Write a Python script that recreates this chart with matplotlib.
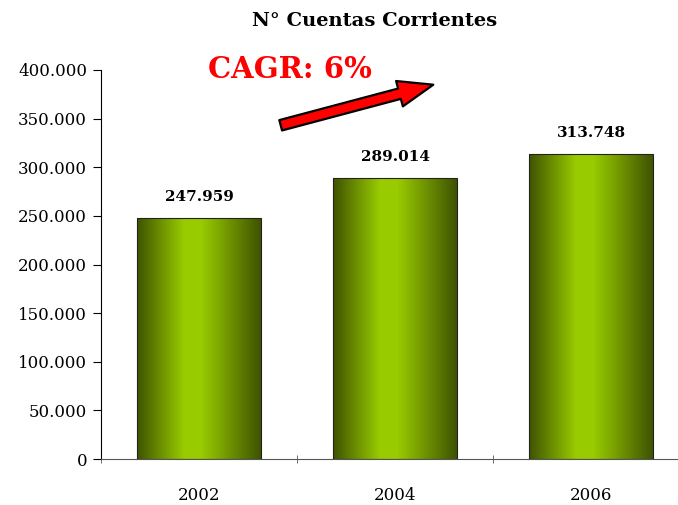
import numpy as np
import matplotlib
matplotlib.use("Agg")
import matplotlib.pyplot as plt
from matplotlib.patches import FancyArrowPatch
from matplotlib.colors import LinearSegmentedColormap
from matplotlib.ticker import FuncFormatter
from matplotlib.transforms import IdentityTransform

years = ["2002", "2004", "2006"]
cuentas = [247959, 289014, 313748]
title = "N° Cuentas Corrientes"
cagr_label = "CAGR: 6%"

plt.rcParams['font.family'] = ['DejaVu Serif']


def miles(v, pos=None):
    return f"{int(v):,}".replace(",", ".")


fig = plt.figure(figsize=(6.78, 5.05), dpi=100)
ax = fig.add_axes([101 / 678, 46 / 505, 588 / 678, 389 / 505])

x = np.arange(len(years))
bars = ax.bar(x, cuentas, width=0.63, color='none', edgecolor='#222222', linewidth=0.8, zorder=3)

# horizontal gradient: dark olive at edges, bright green towards the middle
grad = LinearSegmentedColormap.from_list(
    "olive", [(0.0, "#3f5300"), (0.38, "#99cc00"), (0.52, "#99cc00"), (1.0, "#3f5300")])
strip = np.linspace(0, 1, 256).reshape(1, -1)
for b in bars:
    x0, y0 = b.get_x(), b.get_y()
    im = ax.imshow(strip, cmap=grad, aspect='auto', extent=[x0, x0 + b.get_width(), y0, y0 + b.get_height()],
                   zorder=2, interpolation='bicubic')
    im.set_clip_path(b)

for xi, v in zip(x, cuentas):
    ax.text(xi, v + 14000, miles(v), ha='center', va='bottom', fontsize=11, fontweight='bold')

ax.set_xlim(-0.5, 2.5)
ax.set_ylim(0, 400000)
ax.set_yticks(np.arange(0, 400001, 50000))
ax.yaxis.set_major_formatter(FuncFormatter(miles))
ax.set_xticks(x)
ax.set_xticklabels(years)
ax.set_xticks([-0.5, 0.5, 1.5], minor=True)
ax.tick_params(axis='x', which='major', length=0, pad=20, labelsize=12)
ax.tick_params(axis='x', which='minor', length=6, direction='inout', color='#555555')
ax.tick_params(axis='y', length=6, direction='out', labelsize=12, pad=4)
for s in ['top', 'right']:
    ax.spines[s].set_visible(False)
ax.spines['bottom'].set_color('#555555')

fig.text(375 / 678, 1 - 21 / 505, title, ha='center', va='center', fontsize=14, fontweight='bold')
fig.text(290 / 678, 1 - 70 / 505, cagr_label, ha='center', va='center', fontsize=21,
         fontweight='bold', color='#ff0000')

arrow = FancyArrowPatch((278, 505 - 126), (436, 505 - 84), transform=IdentityTransform(),
                        arrowstyle="simple,head_length=1.8,head_width=1.35,tail_width=0.55",
                        mutation_scale=14, facecolor='#ff0000', edgecolor='black', linewidth=1.6)
fig.add_artist(arrow)

fig.savefig("out.png", dpi=100)
